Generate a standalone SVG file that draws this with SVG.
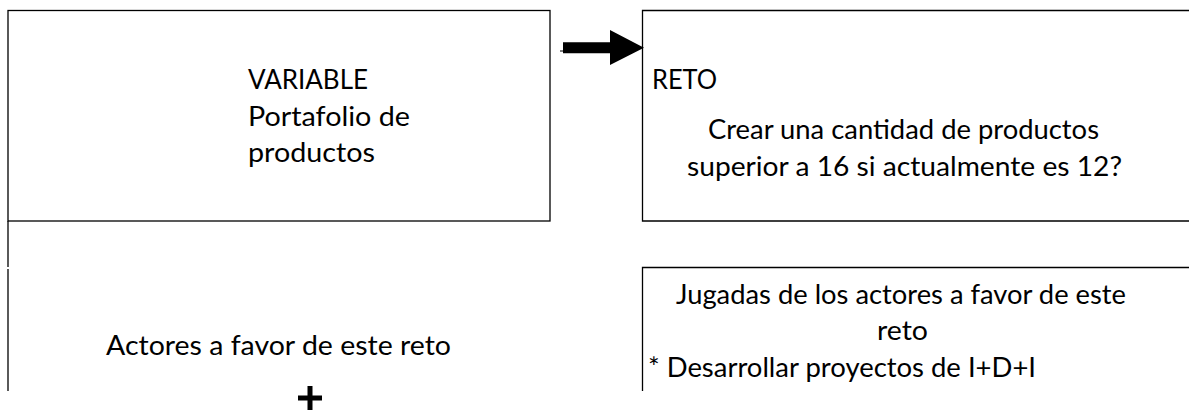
<svg xmlns="http://www.w3.org/2000/svg" width="1189" height="413" viewBox="0 0 1189 413">
<style>
.b{fill:none;stroke:#000;stroke-width:1.3}
.t{font-family:Lato,"Liberation Sans",sans-serif;font-size:26px;fill:#000}
</style>
<rect width="1189" height="413" fill="#fff"/>
<g id="node-variable">
<rect class="b" x="8" y="10.5" width="542" height="210.5"/>
<path class="b" d="M8,221 V267"/>
<text class="t" x="248" y="89" textLength="120" lengthAdjust="spacingAndGlyphs">VARIABLE</text>
<text class="t" x="248" y="126" textLength="162" lengthAdjust="spacingAndGlyphs">Portafolio de</text>
<text class="t" x="248" y="162" textLength="127" lengthAdjust="spacingAndGlyphs">productos</text>
</g>
<g id="node-reto">
<path class="b" d="M1190,10.5 H642.5 V221 H1190"/>
<text class="t" x="652" y="89" textLength="65" lengthAdjust="spacingAndGlyphs">RETO</text>
<text class="t" x="708" y="139" textLength="391" lengthAdjust="spacingAndGlyphs">Crear una cantidad de productos</text>
<text class="t" x="687" y="176" textLength="435" lengthAdjust="spacingAndGlyphs">superior a 16 si actualmente es 12?</text>
</g>
<g id="node-actores">
<path class="b" d="M8,269 V391"/>
<text class="t" x="106" y="355" textLength="345" lengthAdjust="spacingAndGlyphs">Actores a favor de este reto</text>
</g>
<g id="node-jugadas">
<path class="b" d="M1190,267.5 H642.5 V391"/>
<text class="t" x="676" y="304" textLength="450" lengthAdjust="spacingAndGlyphs">Jugadas de los actores a favor de este</text>
<text class="t" x="877" y="340" textLength="51" lengthAdjust="spacingAndGlyphs">reto</text>
<text class="t" x="648" y="377" textLength="388" lengthAdjust="spacingAndGlyphs">* Desarrollar proyectos de I+D+I</text>
</g>
<g id="connectors">
<line x1="560" y1="51" x2="564" y2="51" stroke="#000" stroke-width="1"/>
<polygon points="563,42.3 610,42.3 610,30 644,47.7 610,65 610,53.3 563,53.3" fill="#000"/>
</g>
<g id="plus">
<path d="M310,386 V410 M298,398 H322" stroke="#000" stroke-width="5"/>
</g>
</svg>
